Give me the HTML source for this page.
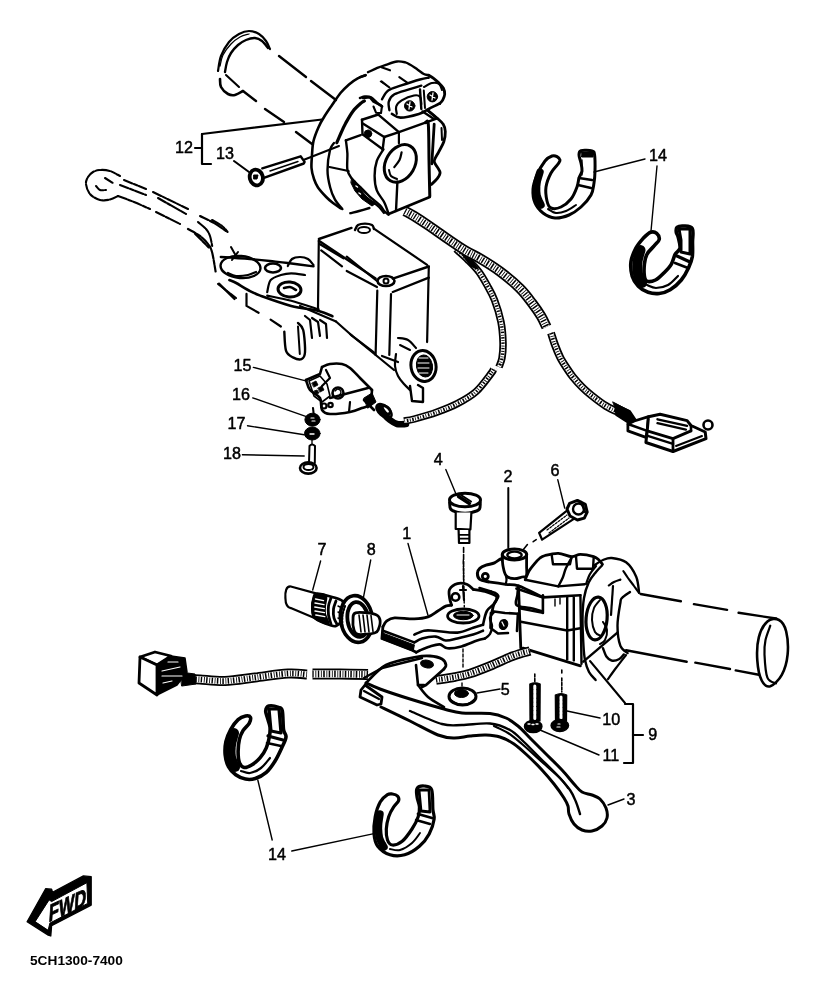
<!DOCTYPE html>
<html><head><meta charset="utf-8"><style>
html,body{margin:0;padding:0;background:#fff;width:815px;height:996px;overflow:hidden}
svg{display:block;filter:grayscale(1)}
text{font-family:"Liberation Sans",sans-serif;fill:#000}
</style></head><body>
<svg width="815" height="996" viewBox="0 0 815 996">
<rect width="815" height="996" fill="#fff"/>
<g fill="none" stroke="#000" stroke-linecap="round" stroke-linejoin="round">
<!-- 00_helpers.py -->
<!-- 01_topgrip.py -->
<path d="M218,71 C218.5,68.5 219.2,60.8 221,56 C222.8,51.2 226,45.7 229,42 C232,38.3 235.7,35.8 239,34 C242.3,32.2 245.7,31 249,31 C252.3,31 256.2,32.3 259,34 C261.8,35.7 264.2,38.5 266,41 C267.8,43.5 269.3,47.7 270,49" stroke-width="2.2" fill="none"/>
<path d="M220,66 C220.5,64.2 221.2,58.7 223,55 C224.8,51.3 228.2,47 231,44 C233.8,41 237,38.7 240,37 C243,35.3 247.5,34.5 249,34" stroke-width="1.3" fill="none"/>
<path d="M225,72 C225.3,70.3 226,65.2 227,62 C228,58.8 229.2,55.8 231,53 C232.8,50.2 235.5,47.2 238,45 C240.5,42.8 243.2,41.2 246,40 C248.8,38.8 252.3,37.8 255,38 C257.7,38.2 259.8,39.3 262,41 C264.2,42.7 267,46.8 268,48" stroke-width="2.4" fill="none"/>
<path d="M220,79 C220.2,80.3 219.7,84.5 221,87 C222.3,89.5 225.7,92.7 228,94 C230.3,95.3 232.5,95.5 235,95 C237.5,94.5 241.7,91.7 243,91" stroke-width="2.6" fill="none"/>
<path d="M243,91 L256,101" stroke-width="2.4"/>
<path d="M226,75 L239,87" stroke-width="2.1"/>
<path d="M279,56 L306,77" stroke-width="2.4"/>
<path d="M311,81 L336,100" stroke-width="2.4"/>
<path d="M265,109 L284,122" stroke-width="2.4"/>
<path d="M296,132 L312,144" stroke-width="2.4"/>
<path d="M202,134 L322,119.5" stroke-width="2.2"/>
<path d="M202,134 L202,164 L211,164" stroke-width="2.2" fill="none"/>
<path d="M195,148 L202,148" stroke-width="2.2"/>
<text x="0" y="0" font-size="17" transform="translate(175,153) scale(0.95,1)" stroke="#000" stroke-width="0.5">12</text>
<text x="0" y="0" font-size="17" transform="translate(216,159) scale(0.95,1)" stroke="#000" stroke-width="0.5">13</text>
<path d="M234,161 L249,172" stroke-width="2.1"/>
<path d="M262.3,168.3 L300.6,156.3 L304.6,161.9 L303.8,163.5 L263.9,177.9" fill="#fff" stroke-width="2.4"/>
<path d="M270,171 L298,161.5" stroke-width="1.4"/>
<ellipse cx="256.3" cy="177.5" rx="6.5" ry="8" transform="rotate(-15 256.3 177.5)" stroke-width="3.8" fill="#fff"/>
<path d="M254,175 l4,0 l-1,4 l-3,0 z" fill="#000" stroke-width="1"/>
<path d="M304.6,159.5 L339,146" stroke-width="2.1"/>
<!-- 02_switch.py -->
<path d="M341,208.5 C339.7,207.6 335.5,204.9 333,203 C330.5,201.1 328.7,199.6 326.2,197 C323.7,194.4 320,190.5 318,187.5 C316,184.5 315.1,182.2 314,179 C312.9,175.8 311.8,172 311.5,168 C311.2,164 311.7,159.5 312,155 C312.3,150.5 312.4,145.6 313.5,141 C314.6,136.4 316.6,131.5 318.4,127.4 C320.2,123.3 322.2,120 324.5,116.3 C326.8,112.6 329.2,109.2 331.9,105.3 C334.6,101.4 337.6,96.5 340.5,93 C343.4,89.5 346.1,86.9 349,84.4 C351.9,82 354.9,79.8 357.7,78.3 C360.5,76.8 364.3,75.7 365.6,75.2" stroke-width="2.6" fill="none"/>
<path d="M368,72.2 C369.6,71.5 374.3,69.1 377.3,67.9 C380.3,66.7 382.6,65.9 385.9,64.8 C389.2,63.7 393.8,61.9 397,61.5 C400.2,61.1 403.2,61.9 405.4,62.4 C407.6,62.9 408.2,63.6 410.3,64.8 C412.4,66 415.4,68.2 417.7,69.7 C419.9,71.2 422,73.1 423.8,74 C425.6,74.9 427.9,75 428.7,75.2" stroke-width="2.4" fill="none"/>
<path d="M360,77.1 L365.5,75.2" stroke-width="2.4"/>
<path d="M334,143 C333.3,144.2 331.1,145.5 330,150 C328.9,154.5 327.5,163.8 327.5,170 C327.5,176.2 328.9,182.6 330.2,187.5 C331.4,192.4 333,196.1 335,199.7 C337,203.3 341.2,207.5 342.4,209.1" stroke-width="2.4" fill="none"/>
<path d="M336.8,142.7 C337.5,141.1 339.6,136.2 341,133 C342.4,129.8 343.4,127.3 345.4,123.7 C347.4,120.1 350.1,114.9 352.8,111.4 C355.5,107.9 359.4,104.6 361.3,102.9 C363.2,101.2 363.9,101.3 364.4,101" stroke-width="3.2" fill="none"/>
<path d="M363.2,98 L370,97.3 L373.6,101.6 L381,105.3" stroke-width="2.6" fill="none"/>
<path d="M381.5,81.4 L389.4,87.5" stroke-width="2.1"/>
<path d="M399.3,77.1 L407.2,82.6" stroke-width="2.1"/>
<path d="M381.5,67.3 L390,70.3" stroke-width="2.1"/>
<path d="M380.4,81.4 L389.6,87.5" stroke-width="1.3"/>
<path d="M428.7,75.2 C429.5,75.7 432,77.1 433.6,78.3 C435.2,79.5 436.9,81 438.5,82.6 C440.1,84.2 442.4,86.1 443.4,88.1 C444.4,90 444.8,92.3 444.7,94.3 C444.6,96.2 443.6,98.3 442.8,99.8 C442,101.3 440.3,102.9 439.8,103.5" stroke-width="2.8" fill="none"/>
<path d="M382,99.2 C383,97.8 385.1,92.8 388.2,90.6 C391.3,88.3 395.2,87.5 400.5,85.7 C405.8,83.9 415.3,80.8 420,79.5 C424.7,78.2 427.2,78 428.7,77.7" stroke-width="2.4" fill="none"/>
<path d="M389.4,110.2 C389.3,108.8 388,104.2 388.8,101.6 C389.6,98.9 391,96.3 394.4,94.3 C397.8,92.3 404.5,90.8 409,89.4 C413.5,88 419.2,86.3 421.3,85.7" stroke-width="2.4" fill="none"/>
<path d="M391.9,113.9 C393.3,114.5 396,117.6 400.5,117.6 C405,117.6 414.2,115.3 418.9,113.9 C423.6,112.5 425.2,110.7 428.7,109 C432.2,107.3 437.9,104.4 439.8,103.5" stroke-width="2.6" fill="none"/>
<path d="M396.8,113.9 C396.7,112.7 395.4,108.8 396.2,106.5 C397,104.2 398.7,102.2 401.7,100.4 C404.7,98.6 410.9,96.1 414,95.5 C417.1,94.9 418.8,95.3 420,96.7 C421.2,98.1 421.1,102.9 421.3,104.1" stroke-width="2.2" fill="none"/>
<path d="M420,89.4 L421.3,109" stroke-width="2.4"/>
<path d="M423.8,90.6 L425,108" stroke-width="2"/>
<path d="M424,87 C425.3,86.3 429.5,83.5 432,83 C434.5,82.5 437.3,82.8 439,84 C440.7,85.2 441.5,89 442,90" stroke-width="2" fill="none"/>
<circle cx="409.7" cy="105.9" r="5.2" stroke-width="1" fill="#000"/>
<circle cx="432.4" cy="96.7" r="5.2" stroke-width="1" fill="#000"/>
<path d="M407,104 l5,3 M410,102 l-1,7 M430,95 l5,3 M433,93 l-1,7" stroke="#fff" stroke-width="1.3"/>
<path d="M362,119.7 L378.3,114.6" stroke-width="2.6"/>
<path d="M378.3,114.6 L398.9,132.2" stroke-width="2.4"/>
<path d="M398.9,132.2 L425.4,122.7" stroke-width="2.4"/>
<path d="M422.6,111.4 L433.6,118.8" stroke-width="2.4"/>
<path d="M428.3,110.9 L437.2,118.3" stroke-width="2.4"/>
<path d="M425.4,122.7 L437.2,118.3" stroke-width="2.4"/>
<path d="M360,98 C360.8,97.8 363.1,96.6 364.9,96.5 C366.7,96.4 368.9,96.2 371,97.3 C373.1,98.4 375.3,101.4 377.2,102.9 C379.1,104.4 381.3,105.9 382.1,106.5" stroke-width="2.6" fill="none"/>
<path d="M373.5,106.5 L376,112.7 L381,113 L382,106" stroke-width="2.1" fill="none"/>
<path d="M362,119.7 L362.5,134.4" stroke-width="2.4"/>
<path d="M362.8,123.4 L384.2,137" stroke-width="2.4"/>
<path d="M362.5,134.4 L382.7,149.2" stroke-width="2.4"/>
<path d="M384.2,137 L382.7,149.2" stroke-width="2.4"/>
<path d="M384.2,137 L398.9,132.2" stroke-width="2.4"/>
<circle cx="368" cy="133.7" r="3.7" stroke-width="1" fill="#000"/>
<path d="M345.9,140.3 L360.6,135.2" stroke-width="2.4"/>
<path d="M398.9,132.2 L398.9,143.3" stroke-width="2.2"/>
<path d="M397.4,181.6 L396,211" stroke-width="2.4"/>
<path d="M425.4,122.7 C425.9,122.9 427.7,117.9 428.3,124.1 C428.9,130.3 428.8,148 429,160 C429.2,172 429.7,190.2 429.8,196.3" stroke-width="3" fill="none"/>
<path d="M388.6,214 L429.8,197" stroke-width="2.6"/>
<path d="M383.5,149.2 C382.4,151.2 378.3,156.6 376.8,161 C375.3,165.4 374.6,170.8 374.6,175.7 C374.6,180.6 375.2,186 376.8,190.4 C378.4,194.8 382.2,198.3 384.2,202.2 C386.2,206.1 387.9,212 388.6,214" stroke-width="2.4" fill="none"/>
<path d="M345.9,140.3 C346.1,142.5 347.1,148.7 347.4,153.6 C347.6,158.5 346.7,165.6 347.4,169.8 C348.1,174 349.6,175.7 351.8,178.6 C354,181.5 357.7,184.4 360.6,187.4 C363.5,190.4 366.2,193.4 369.4,196.3 C372.6,199.2 377.3,202.7 379.8,205.1 C382.3,207.5 382.7,209.4 384.2,211 C385.7,212.6 387.9,214.1 388.6,214.7" stroke-width="2.4" fill="none"/>
<path d="M354.7,181.6 C355.2,183.1 356,187.8 357.7,190.4 C359.4,193 362.4,195.1 365,197 C367.6,198.9 370.7,200.3 373,202 C375.3,203.7 377.2,205.2 379,207 C380.8,208.8 383.2,212 384,213" stroke-width="2.2" fill="none"/>
<path d="M352,178 L358,186 L366,196 L375,204 L372,206 L362,199 L355,191 L351,183 Z" fill="#000" stroke-width="1"/>
<path d="M356,186 l1.5,1 M359,193 l1.5,1" stroke="#fff" stroke-width="1.5"/>
<path d="M350.3,213.2 C351.8,212.8 355.9,211.9 359.1,211 C362.3,210.1 367.7,208.5 369.4,208" stroke-width="2.4" fill="none"/>
<path d="M428.3,110.9 C429.8,112.1 434.7,116.1 437.2,118.3 C439.7,120.5 441.8,121.9 443.1,124.1 C444.5,126.3 445.2,128.6 445.3,131.5 C445.4,134.4 444.9,138.4 443.8,141.8 C442.7,145.2 440.2,148.9 438.6,152.1 C437,155.3 434.4,158.6 434.2,161 C434,163.4 436.2,164.9 437.2,166.8 C438.2,168.8 440.1,170.7 440.1,172.7 C440.1,174.7 438.7,176.6 437.2,178.6 C435.7,180.6 432.3,183.5 431.3,184.5" stroke-width="2.8" fill="none"/>
<path d="M434.2,124.1 L431.8,163.9" stroke-width="2.8"/>
<path d="M441.5,128 L442,140" stroke-width="2"/>
<ellipse cx="400.3" cy="163.4" rx="14.5" ry="20" transform="rotate(30 400.3 163.4)" stroke-width="3" fill="none"/>
<path d="M389,170 C389.3,171 389.7,174.5 391,176 C392.3,177.5 396,178.5 397,179" stroke-width="2" fill="none"/>
<path d="M401.6,152.4 C401.2,153.7 400.7,157.6 399.5,160 C398.3,162.4 395.2,165.9 394.3,167.1" stroke-width="2.2" fill="none"/>
<path d="M329.5,167 L348.6,171" stroke-width="2.2"/>
<!-- 03_cable_top.py -->
<path d="M456,249 C458,250.8 464.2,256.2 468,260 C471.8,263.8 475.8,267.7 479,272 C482.2,276.3 484.9,281.3 487.5,286 C490.1,290.7 492.2,294 494.5,300 C496.8,306 499.6,315 501,322 C502.4,329 502.8,336 503,342 C503.2,348 502.7,353.8 502,358 C501.3,362.2 499.5,365.5 499,367" stroke-width="7.5" stroke-linecap="butt"/>
<path d="M456,249 C458,250.8 464.2,256.2 468,260 C471.8,263.8 475.8,267.7 479,272 C482.2,276.3 484.9,281.3 487.5,286 C490.1,290.7 492.2,294 494.5,300 C496.8,306 499.6,315 501,322 C502.4,329 502.8,336 503,342 C503.2,348 502.7,353.8 502,358 C501.3,362.2 499.5,365.5 499,367" stroke="#fff" stroke-width="3.9" stroke-linecap="butt"/>
<path d="M456,249 C458,250.8 464.2,256.2 468,260 C471.8,263.8 475.8,267.7 479,272 C482.2,276.3 484.9,281.3 487.5,286 C490.1,290.7 492.2,294 494.5,300 C496.8,306 499.6,315 501,322 C502.4,329 502.8,336 503,342 C503.2,348 502.7,353.8 502,358 C501.3,362.2 499.5,365.5 499,367" stroke-width="3.3" stroke-dasharray="1.5 1.7 0.8 1.4" stroke-linecap="butt"/>
<path d="M405,211 C406.5,211.8 409.8,213.4 414,216 C418.2,218.6 424,222.4 430,226.5 C436,230.6 444,236.4 450,240.5 C456,244.6 461,248 466,251 C471,254 474.3,255.1 480,258.5 C485.7,261.9 493.3,266.5 500,271.5 C506.7,276.5 514.7,283.2 520,288.5 C525.3,293.8 528.5,298.4 532,303 C535.5,307.6 538.6,312 541,316 C543.4,320 545.6,325.2 546.5,327" stroke-width="10.5" stroke-linecap="butt"/>
<path d="M405,211 C406.5,211.8 409.8,213.4 414,216 C418.2,218.6 424,222.4 430,226.5 C436,230.6 444,236.4 450,240.5 C456,244.6 461,248 466,251 C471,254 474.3,255.1 480,258.5 C485.7,261.9 493.3,266.5 500,271.5 C506.7,276.5 514.7,283.2 520,288.5 C525.3,293.8 528.5,298.4 532,303 C535.5,307.6 538.6,312 541,316 C543.4,320 545.6,325.2 546.5,327" stroke="#fff" stroke-width="6.9" stroke-linecap="butt"/>
<path d="M405,211 C406.5,211.8 409.8,213.4 414,216 C418.2,218.6 424,222.4 430,226.5 C436,230.6 444,236.4 450,240.5 C456,244.6 461,248 466,251 C471,254 474.3,255.1 480,258.5 C485.7,261.9 493.3,266.5 500,271.5 C506.7,276.5 514.7,283.2 520,288.5 C525.3,293.8 528.5,298.4 532,303 C535.5,307.6 538.6,312 541,316 C543.4,320 545.6,325.2 546.5,327" stroke-width="6.3" stroke-dasharray="1.5 1.7 0.8 1.4" stroke-linecap="butt"/>
<path d="M462,254 L472,261 L478,269 L471,266 Z" fill="#000" stroke-width="1.5"/>
<path d="M551,333 C551.7,335 553.5,341 555,345 C556.5,349 558.2,353.3 560,357 C561.8,360.7 563.8,363.7 566,367 C568.2,370.3 570.3,373.7 573,377 C575.7,380.3 579,384 582,387 C585,390 587,391.8 591,395 C595,398.2 601.2,403.1 606,406 C610.8,408.9 615.5,410.8 619.5,412.6 C623.5,414.4 628.2,416.3 630,417" stroke-width="8" stroke-linecap="butt"/>
<path d="M551,333 C551.7,335 553.5,341 555,345 C556.5,349 558.2,353.3 560,357 C561.8,360.7 563.8,363.7 566,367 C568.2,370.3 570.3,373.7 573,377 C575.7,380.3 579,384 582,387 C585,390 587,391.8 591,395 C595,398.2 601.2,403.1 606,406 C610.8,408.9 615.5,410.8 619.5,412.6 C623.5,414.4 628.2,416.3 630,417" stroke="#fff" stroke-width="4.4" stroke-linecap="butt"/>
<path d="M551,333 C551.7,335 553.5,341 555,345 C556.5,349 558.2,353.3 560,357 C561.8,360.7 563.8,363.7 566,367 C568.2,370.3 570.3,373.7 573,377 C575.7,380.3 579,384 582,387 C585,390 587,391.8 591,395 C595,398.2 601.2,403.1 606,406 C610.8,408.9 615.5,410.8 619.5,412.6 C623.5,414.4 628.2,416.3 630,417" stroke-width="3.8" stroke-dasharray="1.5 1.7 0.8 1.4" stroke-linecap="butt"/>
<path d="M613,402 L630,411 L634,420 L617,412 Z" fill="#000" stroke-width="1"/>
<path d="M615,404 L630,411 L636,420 L630,424 L616,415 Z" fill="#000" stroke-width="1.5"/>
<path d="M627.9,424 L634.3,421 L648.5,416.7 L647.2,430.9 L645.9,437.4 L627.9,430.9 Z" stroke-width="2.8" fill="#fff"/>
<path d="M627.9,424 L647.2,430.9" stroke-width="2.6"/>
<path d="M648.5,416.7 L660.1,414.2 L687.1,420.6 L691,425.5 L705.2,432 L706,438.6 L673,451.5 L645.9,442.5 L647.2,430.9 Z" stroke-width="3" fill="#fff"/>
<path d="M647.2,430.9 L673,438.6 L673,451.5" stroke-width="2.8" fill="none"/>
<path d="M673,438.6 L691,430.9" stroke-width="2.8"/>
<path d="M657.5,419.3 L687.1,425.8" stroke-width="2.4"/>
<path d="M657.5,423.2 L685.9,429.6" stroke-width="2.4"/>
<path d="M648.5,436.1 L673,443.8" stroke-width="2.4"/>
<path d="M676,446 L702,436" stroke-width="2"/>
<path d="M691,425.5 L691,431" stroke-width="2.6"/>
<circle cx="708" cy="425" r="4.5" stroke-width="2.6" fill="#fff"/>
<!-- 04_lever_top.py -->
<g stroke-dasharray="9 1.6 4 1.4">
<path d="M118,196 C116.7,196.6 113,198.8 110,199.5 C107,200.2 103.3,200.9 100,200 C96.7,199.1 92.3,196.7 90,194 C87.7,191.3 86.3,186.8 86,184 C85.7,181.2 86.8,179 88,177 C89.2,175 91,173.2 93,172 C95,170.8 97.2,170.2 100,170 C102.8,169.8 106.7,170 110,171 C113.3,172 118.3,175.2 120,176" stroke-width="2.1" fill="none"/>
<path d="M96,186 C96.7,186.7 98.3,189.3 100,190 C101.7,190.7 105,190 106,190" stroke-width="2.1" fill="none"/>
<path d="M105,178 L113,183" stroke-width="2.1"/>
<path d="M124,180 L146,189" stroke-width="2.1"/>
<path d="M120,185 L146,195" stroke-width="2.1"/>
<path d="M153,192 L188,209" stroke-width="2.1"/>
<path d="M158,198 L186,214" stroke-width="2.1"/>
<path d="M118,196 C120.7,197 128.7,199.8 134,202 C139.3,204.2 147.3,207.8 150,209" stroke-width="2.1" fill="none"/>
<path d="M156,212 L180,224" stroke-width="2.1"/>
<path d="M188,229 C190,230.2 196.7,233.5 200,236 C203.3,238.5 206,241.3 208,244 C210,246.7 210.7,247.4 212,252 C213.3,256.6 215,268.2 215.6,271.5" stroke-width="2.2" fill="none"/>
<path d="M200,216 C202.3,217.2 209.7,220.5 214,223 C218.3,225.5 224,229.7 226,231" stroke-width="2.1" fill="none"/>
<path d="M198,222 C199.3,223.2 204,226.7 206,229 C208,231.3 209,233.2 210,236 C211,238.8 211.8,244.3 212.2,246" stroke-width="2.1" fill="none"/>
<path d="M212,220 C213.7,221 219.4,224 222,226 C224.6,228 226.7,231 227.6,232" stroke-width="2.1" fill="none"/>
<path d="M195,233.7 L208.7,247.5" stroke-width="2.1"/>
<path d="M218,284 L236,298" stroke-width="2.1"/>
</g>
<ellipse cx="240.5" cy="267" rx="20" ry="11" transform="rotate(5 240.5 267)" stroke-width="2.4" fill="none"/>
<path d="M228,273 C229.3,273.5 232.7,275.7 236,276 C239.3,276.3 244.7,275.7 248,275 C251.3,274.3 254.7,272.5 256,272" stroke-width="2.2" fill="none"/>
<ellipse cx="273" cy="268" rx="8" ry="4.5" transform="rotate(0 273 268)" stroke-width="2.6" fill="none"/>
<path d="M287.8,266 C288.5,264.8 290,260.5 292,259 C294,257.5 297.3,257 300,257 C302.7,257 305.8,257.7 308,259 C310.2,260.3 312.6,264 313.5,265" stroke-width="2.2" fill="none"/>
<path d="M220.8,257 C225.7,257.3 241.8,258.3 250,259 C258.2,259.7 263.7,260.3 270,261 C276.3,261.7 280.6,262.1 287.8,263 C295.1,263.9 309.2,265.8 313.5,266.4" stroke-width="2.4" fill="none"/>
<path d="M229.4,280 C230.5,280.5 233.1,281.3 236.2,283 C239.3,284.7 244,287.9 248,290 C252,292.1 253.1,293 260.3,295.6 C267.5,298.2 281.5,303.3 291.2,305.9 C300.9,308.5 311.8,309.3 318.7,311 C325.6,312.7 330.1,315.3 332.4,316.2" stroke-width="2.6" fill="none"/>
<ellipse cx="289.5" cy="289.5" rx="11.5" ry="7.5" transform="rotate(5 289.5 289.5)" stroke-width="3" fill="none"/>
<path d="M284,288 C285,287.8 288,286.7 290,287 C292,287.3 295,289.5 296,290" stroke-width="2.6" fill="none"/>
<path d="M267.2,292.2 C267.8,290.2 268.3,283 270.6,280.1 C272.9,277.2 277.5,276.1 280.9,275 C284.3,273.9 287.2,273.3 291.2,273.3 C295.2,273.3 302.7,274.7 305,275" stroke-width="2.2" fill="none"/>
<path d="M267.2,295.6 C271.2,296.5 282.6,298.4 291.2,300.7 C299.8,303 314.1,307.9 318.7,309.3" stroke-width="2.2" fill="none"/>
<path d="M246.5,293.9 L246.5,305.9 L258.6,312.8" stroke-width="2.2" fill="none"/>
<path d="M219,283.6 L234.5,299" stroke-width="2.2"/>
<path d="M270.6,319.6 L280.9,326.5" stroke-width="2.2"/>
<path d="M284.3,331.7 C284.6,334.9 284.6,346.3 286,350.6 C287.4,354.9 290.3,356 292.9,357.4 C295.5,358.8 299.5,360 301.5,359.2 C303.5,358.4 304.7,357.2 305,352.3 C305.3,347.4 304.4,334.9 303.2,330 C302,325.1 298.9,324.2 298,323" stroke-width="2.4" fill="none"/>
<path d="M298,326.5 L299.8,354" stroke-width="2"/>
<path d="M305,316 L310,320 L312,338" stroke-width="2.2" fill="none"/>
<path d="M312,318 L318,322 L320,336" stroke-width="2.2" fill="none"/>
<path d="M320,320 L326,324 L327,338" stroke-width="2.2" fill="none"/>
<path d="M232,260 L238,252" stroke-width="2"/>
<path d="M231,247 L236,256" stroke-width="2"/>
<!-- 05_reservoir.py -->
<path d="M318.9,239 L351.5,227.9" stroke-width="2.4"/>
<path d="M355,230 C355.5,229.2 356.3,226.1 358,225 C359.7,223.9 362.7,223.6 365,223.6 C367.3,223.6 370.5,224.1 372,225 C373.5,225.9 373.7,228.3 374,229" stroke-width="2.4" fill="none"/>
<ellipse cx="364" cy="230" rx="6" ry="3" transform="rotate(0 364 230)" stroke-width="2" fill="none"/>
<path d="M373.9,228.7 L427.1,264.8" stroke-width="2.2"/>
<path d="M318.9,240.8 L375.6,278.6" stroke-width="2.4"/>
<path d="M319.6,244 L343.5,258.3" stroke-width="2.2"/>
<path d="M346.7,256.7 L377,281" stroke-width="2.2"/>
<path d="M321.2,250.3 L342,266.3" stroke-width="2.2"/>
<path d="M346.7,271 L377,287" stroke-width="2.2"/>
<path d="M392.8,278.6 L428.8,266.5" stroke-width="2.4"/>
<path d="M392.8,292 L428.8,277.7" stroke-width="2.4"/>
<ellipse cx="386" cy="281" rx="8.5" ry="5" transform="rotate(0 386 281)" stroke-width="2.6" fill="none"/>
<circle cx="386" cy="281" r="2.5" stroke-width="2" fill="none"/>
<path d="M318.8,240.7 L318,308" stroke-width="2.2"/>
<path d="M377.3,290.6 L375.6,355" stroke-width="2.2"/>
<path d="M391,294 L389.3,355" stroke-width="2.2"/>
<path d="M428.8,266.5 L427.1,342.1" stroke-width="2.2"/>
<path d="M300,306 L336,321.5" stroke-width="2.2"/>
<path d="M336,321.5 L351.5,335.3" stroke-width="2.2"/>
<path d="M351.5,335.3 L373.9,352.4" stroke-width="2.2"/>
<!-- 06_brakeswitch.py -->
<path d="M322,367 C323.3,366.5 326.7,364.5 330,364 C333.3,363.5 338.7,363.3 342,364 C345.3,364.7 347,365.7 350,368 C353,370.3 357,375 360,378 C363,381 366,384 368,386 C370,388 371.3,389.3 372,390" stroke-width="2.6" fill="none"/>
<path d="M306,380 C306.7,381.7 307.7,387 310,390 C312.3,393 318,394.7 320,398 C322,401.3 320.3,407.3 322,410 C323.7,412.7 325.3,413.7 330,414 C334.7,414.3 344.7,413 350,412 C355.3,411 358.7,409.3 362,408 C365.3,406.7 368.3,407 370,404 C371.7,401 371.7,392.3 372,390" stroke-width="2.6" fill="none"/>
<path d="M322,367 L320,374 L306,380" stroke-width="2.6" fill="none"/>
<path d="M326,370 L330,378 L322,386" stroke-width="2.2" fill="none"/>
<path d="M330,398 L368,388" stroke-width="2.4"/>
<path d="M350,402 L349,412" stroke-width="2.2"/>
<path d="M309,381 L320,376 L327,384 L330,396 L322,402 L314,396 Z" fill="none" stroke-width="1.6"/>
<path d="M312,383 l4,-2 l2,4 l-4,2 Z M318,388 l4,-2 l2,4 l-4,2 Z M314,391 l3,-1 l2,3 l-3,1 Z" fill="#000" stroke-width="0.8"/>
<circle cx="338" cy="393" r="5.5" stroke-width="2.6" fill="none"/>
<path d="M335,391 C335.5,390.7 337,388.8 338,389 C339,389.2 340.8,390.8 341,392 C341.2,393.2 339.3,395.3 339,396" stroke-width="1.4" fill="none"/>
<circle cx="324" cy="406" r="2.5" stroke-width="2.2" fill="none"/>
<circle cx="330.5" cy="405" r="2.2" stroke-width="2.2" fill="none"/>
<path d="M364,400 L374,410" stroke-width="2.6" fill="none"/>
<path d="M364,398 L372,393 L376,402 L368,408 Z" fill="#000" stroke-width="1"/>
<ellipse cx="384" cy="411" rx="9" ry="5" transform="rotate(40 384 411)" stroke-width="2.4" fill="none"/>
<ellipse cx="386" cy="410" rx="5" ry="3" transform="rotate(40 386 410)" stroke-width="3" fill="none"/>
<path d="M380,408 C380.7,409 382.3,412 384,414 C385.7,416 387.8,418.3 390,420 C392.2,421.7 394.3,423.3 397,424 C399.7,424.7 404.5,424 406,424" stroke-width="6.6" fill="none"/>
<path d="M493.4,369.2 C493.1,369.8 494.6,368.9 491.7,372.6 C488.8,376.3 481.9,386.3 476.2,391.5 C470.5,396.7 463.9,400.2 457.3,403.6 C450.7,407.1 443.9,409.6 436.7,412.2 C429.5,414.8 419.8,417.5 414.4,419 C408.9,420.5 405.7,420.7 404,421" stroke-width="7.5" stroke-linecap="butt"/>
<path d="M493.4,369.2 C493.1,369.8 494.6,368.9 491.7,372.6 C488.8,376.3 481.9,386.3 476.2,391.5 C470.5,396.7 463.9,400.2 457.3,403.6 C450.7,407.1 443.9,409.6 436.7,412.2 C429.5,414.8 419.8,417.5 414.4,419 C408.9,420.5 405.7,420.7 404,421" stroke="#fff" stroke-width="3.9" stroke-linecap="butt"/>
<path d="M493.4,369.2 C493.1,369.8 494.6,368.9 491.7,372.6 C488.8,376.3 481.9,386.3 476.2,391.5 C470.5,396.7 463.9,400.2 457.3,403.6 C450.7,407.1 443.9,409.6 436.7,412.2 C429.5,414.8 419.8,417.5 414.4,419 C408.9,420.5 405.7,420.7 404,421" stroke-width="3.3" stroke-dasharray="1.5 1.7 0.8 1.4" stroke-linecap="butt"/>
<path d="M253.4,367.4 L305.7,380.9" stroke-width="1.4"/>
<path d="M252.7,397.9 L305.7,416.3" stroke-width="1.4"/>
<path d="M247.5,425.8 L304.2,434.7" stroke-width="1.4"/>
<path d="M242.4,454.8 L304.2,456" stroke-width="1.4"/>
<text x="0" y="0" font-size="17" transform="translate(233.5,371.3) scale(0.95,1)" stroke="#000" stroke-width="0.5">15</text>
<text x="0" y="0" font-size="17" transform="translate(232,400.3) scale(0.95,1)" stroke="#000" stroke-width="0.5">16</text>
<text x="0" y="0" font-size="17" transform="translate(227.5,428.8) scale(0.95,1)" stroke="#000" stroke-width="0.5">17</text>
<text x="0" y="0" font-size="17" transform="translate(223,459) scale(0.95,1)" stroke="#000" stroke-width="0.5">18</text>
<path d="M313,408 L313.8,414.8" stroke-width="2.1"/>
<ellipse cx="312.5" cy="419.7" rx="7.6" ry="6.5" transform="rotate(0 312.5 419.7)" stroke-width="1" fill="#000"/>
<path d="M311,418 l3,0 M312,421 l3,0" stroke="#fff" stroke-width="1.2"/>
<ellipse cx="312.3" cy="433.5" rx="7.8" ry="6.5" transform="rotate(0 312.3 433.5)" stroke-width="1" fill="#000"/>
<path d="M310,434 l4,0" stroke="#fff" stroke-width="1.4"/>
<path d="M312,440 L312,444" stroke-width="1.3"/>
<path d="M309,463 L309.5,446 Q312,443 315,446 L314.8,463" fill="none" stroke-width="2"/>
<ellipse cx="308.3" cy="468" rx="8.3" ry="5.6" transform="rotate(0 308.3 468)" stroke-width="2.6" fill="none"/>
<ellipse cx="308.5" cy="467" rx="5" ry="3" transform="rotate(0 308.5 467)" stroke-width="2" fill="none"/>
<ellipse cx="423.5" cy="366" rx="12.5" ry="15.5" transform="rotate(-10 423.5 366)" stroke-width="3" fill="none"/>
<ellipse cx="424.5" cy="366" rx="8" ry="11" transform="rotate(-10 424.5 366)" stroke-width="1" fill="#000"/>
<path d="M419,358 l9,0 M418,363 l11,0 M418,368 l11,0 M419,373 l9,0" stroke="#fff" stroke-width="1"/>
<path d="M396,354 C395.8,356 394.7,362.3 395,366 C395.3,369.7 396.5,373 398,376 C399.5,379 402,381.7 404,384 C406,386.3 409,389 410,390" stroke-width="2.2" fill="none"/>
<path d="M398,338 C399.7,338.3 405,338.3 408,340 C411,341.7 414.7,346.7 416,348" stroke-width="2.2" fill="none"/>
<path d="M410,386 L412,401 L423,402 L423,388 L418,385" stroke-width="2.4" fill="none"/>
<path d="M350,334 L394,370" stroke-width="2.2"/>
<path d="M382,356 L398,362" stroke-width="2.2"/>
<path d="M400,345 L410,350" stroke-width="2"/>
<!-- 07_clips_top.py -->
<path d="M552,156 C550,156.7 547.5,157.8 545,161 C542.5,164.2 539,170.3 537,175 C535,179.7 533.3,184.3 533,189 C532.7,193.7 533.3,199 535,203 C536.7,207 539.7,210.5 543,213 C546.3,215.5 550.7,217.7 555,218 C559.3,218.3 564.7,216.8 569,215 C573.3,213.2 577.3,210.3 581,207 C584.7,203.7 588.8,199 591,195 C593.2,191 593.3,187 594,183 C594.7,179 594.9,175.7 595,171 C595.1,166.3 595.1,158.3 594.6,155 C594.1,151.7 594.3,151.7 592,151 C589.7,150.3 583.2,149.9 581,150.6 C578.8,151.3 579,152.9 579,155 C579,157.1 580.5,160.3 581,163 C581.5,165.7 582.3,168.5 582,171 C581.7,173.5 579.8,175.3 579,178 C578.2,180.7 578.3,183.5 577,187 C575.7,190.5 573.7,195.7 571,199 C568.3,202.3 564.3,205.5 561,207 C557.7,208.5 553.3,209 551,208 C548.7,207 547.8,204.5 547,201 C546.2,197.5 545.3,191.7 546,187 C546.7,182.3 549,176.8 551,173 C553,169.2 556.5,166.2 558,164 C559.5,161.8 560.2,161.2 560,160 C559.8,158.8 558.3,157.3 557,156.6 C555.7,155.9 554,155.3 552,156 Z" stroke-width="3" fill="#fff"/>
<path d="M540,172 C539.5,173.8 537.5,179.2 537,183 C536.5,186.8 536.3,191.3 537,195 C537.7,198.7 540.3,203.3 541,205" stroke-width="7.5" stroke-dasharray="8 1.2 5 1.2"/>
<path d="M548,209 C549.3,209.7 553,212.7 556,213 C559,213.3 562.7,212.3 566,211 C569.3,209.7 574.3,206 576,205" stroke-width="2" fill="none"/>
<path d="M581,152 L593,152 L593,157 L582,157 Z" stroke-width="1" fill="#000"/>
<path d="M579,178 L592,180" stroke-width="2.6"/>
<path d="M578,185 L591,188" stroke-width="2.6"/>
<path d="M582,160 L582,175" stroke-width="1.3"/>
<text x="0" y="0" font-size="17" transform="translate(649,161) scale(0.95,1)" stroke="#000" stroke-width="0.5">14</text>
<path d="M645,159 L594,172" stroke-width="1.4"/>
<path d="M657,166 L651,231" stroke-width="1.4"/>
<path d="M650.6,232.2 C648.4,233 645.7,235.7 643.2,238.3 C640.8,241 637.9,244.2 635.9,248.1 C633.9,252 631.6,256.9 631,261.6 C630.4,266.3 631,272.2 632.2,276.3 C633.4,280.4 635.6,283.5 638.3,286.2 C640.9,288.9 644.6,291.1 648.1,292.3 C651.6,293.5 655.5,293.9 659.2,293.5 C662.9,293.1 666.5,292.1 670.2,289.8 C673.9,287.6 678.2,283.7 681.3,280 C684.4,276.3 686.8,271.7 688.6,267.8 C690.4,263.9 691.6,261 692.3,256.7 C692.9,252.4 692.5,246.7 692.5,242 C692.5,237.3 693.8,231.2 692.3,228.5 C690.8,225.8 686.2,226.2 683.7,226 C681.2,225.8 678.2,226.3 677,227.3 C675.8,228.3 676.1,230.6 676.3,232.2 C676.5,233.8 677.6,234.4 678.2,237.1 C678.8,239.8 680.5,245.2 680,248.1 C679.5,251 676.5,251.6 675.1,254.3 C673.7,257 673.2,261 671.4,264.1 C669.6,267.2 666.8,270.1 664.1,272.7 C661.5,275.3 658.4,278.6 655.5,280 C652.6,281.4 648.8,281.9 646.9,281.3 C645,280.7 644.8,279.2 644.4,276.3 C644,273.4 644,267.8 644.4,264.1 C644.8,260.4 645.2,257.4 646.9,254.3 C648.5,251.2 652.2,248.2 654.3,245.7 C656.3,243.2 658.8,241.6 659.2,239.5 C659.6,237.4 658.1,234.6 656.7,233.4 C655.3,232.2 652.9,231.4 650.6,232.2 Z" stroke-width="3.6" fill="#fff"/>
<path d="M640.5,250 C640,252 637.9,258 637.5,262 C637.1,266 637.2,270.5 638,274 C638.8,277.5 641.3,281.5 642,283" stroke-width="10" stroke-dasharray="8 1.2 5 1.2"/>
<path d="M647,285 C648.5,285.5 652.5,288 656,288 C659.5,288 664.3,287 668,285 C671.7,283 676.3,277.5 678,276" stroke-width="2.2" fill="none"/>
<path d="M679,229 L690,229 L690,254 L681,252 L681,240 Z" stroke-width="3" fill="none"/>
<path d="M677,256 L690,262" stroke-width="3.2"/>
<path d="M675,263 L688,268" stroke-width="2.6"/>
<!-- 08_adjuster.py -->
<path d="M317.8,593.9 L290.8,586.5 C286,586 285,592 285.4,598 C285.5,604 287,607.5 290.8,608.1 L315.1,618.2" fill="#fff" stroke-width="2.2"/>
<path d="M317.8,593.9 C322.1,594.1 335.1,597.5 339.4,599.3 C343.7,601.1 342.9,601.3 343.4,604.7 C343.9,608.1 343.6,616 342.5,619.5 C341.4,623 338.6,624.5 336.7,625.5 C334.8,626.5 334.9,626.7 331.3,625.5 C327.7,624.3 318.2,621 315.1,618.2 C312,615.4 312.6,612.1 312.4,608.7 C312.2,605.3 312.8,600.5 313.7,598 C314.6,595.5 313.5,593.7 317.8,593.9 Z" stroke-width="2.8" fill="#fff"/>
<path d="M317.8,593.9 C319.9,593.6 324.8,594 326,596 C327.2,598 325.2,603 325,606 C324.8,609 324.5,611.1 325,614 C325.5,616.9 329.6,622.8 328,623.5 C326.4,624.2 317.7,620.7 315.1,618.2 C312.5,615.7 312.6,612.1 312.4,608.7 C312.2,605.3 312.8,600.5 313.7,598 C314.6,595.5 315.8,594.2 317.8,593.9 Z" stroke-width="2.1" fill="#000"/>
<path d="M315.5,599 l8,1.6 M315,603 l9,1.6 M314.8,607 l9.5,1.6 M315,611 l9.5,1.6 M315.8,615 l9,1.6" stroke="#fff" stroke-width="1.4"/>
<path d="M331,598 C330.6,599.3 328.9,603.2 328.5,606 C328.1,608.8 328.1,612 328.5,615 C328.9,618 330.6,622.5 331,624" stroke-width="2.8" fill="none"/>
<path d="M336,601 C335.6,602.3 333.8,606.2 333.5,609 C333.2,611.8 333.4,615.5 334,618 C334.6,620.5 336.5,623 337,624" stroke-width="2.8" fill="none"/>
<path d="M338,606 l2,1 M338,612 l2,1 M338,618 l2,1" stroke-width="1.4"/>
<ellipse cx="356.5" cy="619" rx="16" ry="23.5" transform="rotate(-8 356.5 619)" stroke-width="3.6" fill="#fff"/>
<path d="M345,606 C344.6,607.5 342.9,611.7 342.5,615 C342.1,618.3 342.1,622.8 342.5,626 C342.9,629.2 343.8,631.8 345,634 C346.2,636.2 349.2,638.2 350,639" stroke-width="2.2" stroke-dasharray="1.5 1.6" fill="none"/>
<ellipse cx="358" cy="619.5" rx="10.5" ry="17.5" transform="rotate(-8 358 619.5)" stroke-width="3.8" fill="none"/>
<path d="M355.6,612.8 C359.2,611.8 370.4,613 374.5,614.1 C378.6,615.2 379.2,617 379.9,619.5 C380.6,622 379.4,626.8 378.5,629 C377.6,631.2 377.9,632.1 374.5,633 C371.1,633.9 361.7,634.9 358.3,634.4 C354.9,633.9 354.9,632.4 354,630 C353.1,627.6 352.7,622.9 353,620 C353.3,617.1 352,613.8 355.6,612.8 Z" stroke-width="2.8" fill="#fff"/>
<path d="M359,615 l2,17 M363,615 l2,17 M367,615 l2,17 M371,615.5 l2,16" stroke-width="1.6"/>
<text x="0" y="0" font-size="17" transform="translate(317.6,555.4) scale(0.95,1)" stroke="#000" stroke-width="0.5">7</text>
<text x="0" y="0" font-size="17" transform="translate(366.8,554.5) scale(0.95,1)" stroke="#000" stroke-width="0.5">8</text>
<path d="M320.6,561 L312.7,590" stroke-width="1.4"/>
<path d="M370.7,560 L363.6,596.6" stroke-width="1.4"/>
<!-- 09_part1.py -->
<path d="M382.9,626.7 C383.5,625.7 384.9,622.4 386.8,620.9 C388.8,619.4 390,618.2 394.6,617.9 C399.2,617.6 408.7,619.1 414.3,618.9 C419.9,618.7 424.1,618.2 428,616.9 C431.9,615.6 434.9,612.8 437.8,611 C440.8,609.2 443.4,607.1 445.7,606.1 C448,605.1 450.6,605.4 451.6,605.2" stroke-width="2.8" fill="none"/>
<path d="M382.9,626.7 L381.9,638.5 L412.3,650.3 L416.2,652.3" stroke-width="2.8" fill="none"/>
<path d="M382.5,633 L414.3,645 L413,651 L381.9,639 Z" fill="#000" stroke-width="1.2"/>
<path d="M382.9,630.7 L414.3,642.4" stroke-width="2.6"/>
<path d="M414.3,634.6 C415.9,634 420.8,631.4 424.1,630.7 C427.4,630.1 428.3,630.4 433.9,630.7 C439.4,631 450.8,633.1 457.4,632.6 C463.9,632.1 468.9,629 473.2,627.7 C477.5,626.4 481.4,625.3 483,624.8" stroke-width="2.6" fill="none"/>
<path d="M414.3,642.4 C415.6,641.8 418.5,639.5 422.1,638.5 C425.7,637.5 432,636.3 435.9,636.6 C439.8,636.9 442.1,640.2 445.7,640.5 C449.3,640.8 452.8,639.5 457.4,638.5 C462,637.5 468.9,635.9 473.2,634.6 C477.5,633.3 481.4,631.4 483,630.7" stroke-width="2.6" fill="none"/>
<path d="M416.2,652.3 C416.9,652 417.9,651.3 420.2,650.3 C422.5,649.3 426.7,647.4 430,646.4 C433.3,645.4 436.9,644.1 439.8,644.4 C442.7,644.7 444,648 447.6,648.3 C451.2,648.6 456.5,647.7 461.4,646.4 C466.3,645.1 473.2,641.8 477.1,640.5 C481,639.2 483.6,638.8 484.9,638.5" stroke-width="2.6" fill="none"/>
<path d="M483,624.8 C483.6,622.5 484.9,614.6 486.9,611 C488.8,607.4 493.1,605.5 494.7,603.2 C496.3,600.9 497,598.8 496.7,597.3 C496.4,595.8 494.8,595.4 492.8,594.4 C490.8,593.4 488.2,592.2 484.9,591.4 C481.6,590.6 475.1,589.7 473.2,589.4" stroke-width="2.6" fill="none"/>
<path d="M484.9,638.5 C485.8,637.8 488.8,636.1 490,634 C491.2,631.9 492,628.7 492,626 C492,623.3 489.7,620.3 490,618 C490.3,615.7 493.3,613 494,612" stroke-width="2.4" fill="none"/>
<path d="M451.6,605.2 C451.3,604 449.9,600.6 449.6,598 C449.3,595.4 448.3,591.8 449.6,589.4 C450.9,587 454.4,584.4 457.4,583.6 C460.3,582.8 464.7,583.5 467.3,584.5 C469.9,585.5 472.2,588.6 473.2,589.4" stroke-width="2.8" fill="none"/>
<circle cx="455.5" cy="597" r="3.8" stroke-width="2.6" fill="none"/>
<path d="M463.3,560 L464.3,607" stroke-width="1.4" stroke-dasharray="4 2.5"/>
<path d="M460,590 L466,590 M463,586 L464,600" stroke-width="2.2"/>
<ellipse cx="463.3" cy="616" rx="15.7" ry="7" transform="rotate(0 463.3 616)" stroke-width="2.8" fill="none"/>
<ellipse cx="463.3" cy="615.5" rx="9.8" ry="4.2" transform="rotate(0 463.3 615.5)" stroke-width="1" fill="#000"/>
<path d="M457,615 l12,0" stroke="#fff" stroke-width="1"/>
<path d="M408,543.5 L427.9,615" stroke-width="1.4"/>
<text x="0" y="0" font-size="17" transform="translate(402.3,538.8) scale(0.95,1)" stroke="#000" stroke-width="0.5">1</text>
<!-- 10_holder.py -->
<ellipse cx="514.5" cy="554.5" rx="12.2" ry="5.5" transform="rotate(0 514.5 554.5)" stroke-width="3" fill="#fff"/>
<ellipse cx="514.5" cy="555" rx="7.2" ry="3.4" transform="rotate(0 514.5 555)" stroke-width="2.4" fill="none"/>
<path d="M502.2,555 C502.3,556.8 502.3,562.5 503,566 C503.7,569.5 504.3,573.6 506.2,575.7 C508.1,577.8 511.6,578.5 514.2,578.7 C516.8,578.9 520,577.5 522,577 C524,576.5 525.6,577.5 526.4,575.7 C527.2,573.9 526.6,569.5 526.6,566 C526.6,562.5 526.6,556.8 526.6,555" stroke-width="2.8" fill="none"/>
<text x="0" y="0" font-size="17" transform="translate(503.6,481.9) scale(0.95,1)" stroke="#000" stroke-width="0.5">2</text>
<path d="M508.3,488 L508.3,547.5" stroke-width="2"/>
<path d="M502,560 C501.8,559.8 501.9,558.3 500.7,558.8 C499.4,559.3 496.9,561.7 494.5,562.8 C492.1,563.9 488.4,564.3 486,565.2 C483.6,566.1 481.2,567 479.8,568.3 C478.4,569.6 477.4,571.4 477.4,573.2 C477.4,575.1 478,578 479.8,579.4 C481.6,580.8 487,581.4 488.4,581.8" stroke-width="3" fill="none"/>
<circle cx="485.3" cy="576.3" r="3" stroke-width="2.8" fill="none"/>
<path d="M488.4,581.8 C491.3,582.2 500.6,583.6 505.6,584.3 C510.6,585 512.6,583.8 518.5,585.8 C524.4,587.8 537.4,594.7 541.2,596.5" stroke-width="2.8" fill="none"/>
<path d="M506,576 C506.1,576.7 506.6,578.6 506.5,580 C506.4,581.4 505.8,583.6 505.6,584.3" stroke-width="2.2" fill="none"/>
<path d="M518.5,585.8 C518.3,587.3 517.8,591.8 517.5,595 C517.2,598.2 514.5,602.9 516.6,605.1 C518.7,607.3 525.7,607 530,608 C534.3,609 540.3,610.8 542.4,611.3" stroke-width="2.8" fill="none"/>
<path d="M490.9,591.6 C491.6,591.8 493.8,592.2 495,593 C496.2,593.8 498.4,594.7 498.2,596.5 C498,598.3 495,601.5 494,604 C493,606.5 492.4,610.1 492.1,611.3" stroke-width="2.8" fill="none"/>
<path d="M479.5,588 L490.9,591.6" stroke-width="2.6" fill="none"/>
<path d="M492.1,611.3 L505,613 L517.9,613.7" stroke-width="2.6" fill="none"/>
<path d="M490.9,613 L490.5,628 L498,633.5 L508,633" stroke-width="2.6" fill="none"/>
<ellipse cx="503.5" cy="624.5" rx="4.2" ry="5.2" transform="rotate(20 503.5 624.5)" stroke-width="1" fill="#000"/>
<path d="M502,622 l2,4" stroke="#fff" stroke-width="1.2"/>
<path d="M517.9,613.7 L517,631" stroke-width="2.6"/>
<path d="M525.2,579.8 C525.8,578.3 527.5,573.6 529,571 C530.5,568.4 532.2,566.5 534,564.3 C535.8,562.1 538.1,559.5 540,558 C541.9,556.5 542.1,556.3 545.1,555.5 C548.1,554.7 553.9,553.1 558.3,553.3 C562.7,553.5 567.9,556.4 571.6,556.6 C575.3,556.8 576.7,554.4 580.4,554.4 C584.1,554.4 590.6,555.7 593.7,556.6 C596.8,557.5 597.5,558.7 599,560 C600.5,561.3 601.9,563.6 602.5,564.3" stroke-width="2.8" fill="none"/>
<path d="M551.7,555 L553,564.3 L570,564.3 L571.6,557" stroke-width="2.4" fill="none"/>
<path d="M576,556.5 L577,568.7 L593,568.7 L593.7,557.5" stroke-width="2.4" fill="none"/>
<path d="M571.6,557.7 C570.7,559.4 567.5,564.7 566,568 C564.5,571.3 564.1,574.4 562.8,577.5 C561.5,580.6 559,584.9 558.3,586.4" stroke-width="2.4" fill="none"/>
<path d="M596,566 C595,567.3 591.7,571 590,574 C588.3,577 586.7,582.3 586,584" stroke-width="2.2" fill="none"/>
<path d="M525.2,579.8 L558.3,586.4 L584.8,584.2" stroke-width="2.4" fill="none"/>
<path d="M516.4,588.6 L542.9,597.4 L580.4,595.2" stroke-width="2.6" fill="none"/>
<path d="M542.9,595.2 L542.9,612.9" stroke-width="2.6"/>
<path d="M520.8,608.5 L542.9,612.9" stroke-width="2.4"/>
<path d="M520.8,621.7 L567.2,630.5 L580.4,628.3" stroke-width="2.6" fill="none"/>
<path d="M518.6,588.6 L520.8,648.2" stroke-width="2.8"/>
<path d="M523,648.2 L580.4,665.9" stroke-width="2.8"/>
<path d="M567.2,597.4 L567.2,659.3" stroke-width="2.4"/>
<path d="M573.8,597.4 L573.8,660.4" stroke-width="2.4"/>
<path d="M580.4,595.2 L581.5,663.7" stroke-width="2.4"/>
<path d="M555,599 L555,606 M560,598 L560,604" stroke-width="1.4"/>
<!-- 11_grip_right.py -->
<path d="M640.6,594 L680.9,601.2" stroke-width="2.4"/>
<path d="M693.9,604.1 L727.1,609.9" stroke-width="2.4"/>
<path d="M738.6,612.8 L776.1,618.5" stroke-width="2.4"/>
<path d="M626.1,650.2 L686.7,661.8" stroke-width="2.4"/>
<path d="M695.3,662.6 L730,669" stroke-width="2.4"/>
<path d="M735.7,670.4 L758.8,674.8" stroke-width="2.4"/>
<path d="M779,620 C782.1,621.7 784.8,625.7 786.2,631.5 C787.6,637.3 788.3,647.4 787.6,654.6 C786.9,661.8 784.7,669.5 781.8,674.8 C778.9,680.1 773.6,685.3 770.3,686.3 C766.9,687.2 763.9,684.8 761.7,680.5 C759.5,676.2 757.8,667.5 757.3,660.3 C756.8,653.1 757.1,643.8 758.8,637.3 C760.5,630.8 764,624.3 767.4,621.4 C770.8,618.5 775.9,618.3 779,620 Z" stroke-width="2.6" fill="none"/>
<path d="M770.3,625.7 C769.5,628.1 766.5,635.2 765.5,640 C764.5,644.8 764.2,648.3 764.5,654.6 C764.8,660.9 765.5,672.8 767.4,677.6 C769.3,682.4 774.6,682.4 776,683.4" stroke-width="2.2" fill="none"/>
<path d="M594.4,565.2 C595.8,564.3 600.1,561.2 603,560 C605.9,558.8 607.9,557.6 611.7,558 C615.6,558.4 622,559.2 626.1,562.3 C630.2,565.4 634,571.7 636.2,576.7 C638.4,581.8 638.6,590 639.1,592.6" stroke-width="2.4" fill="none"/>
<path d="M623.3,571 C624.1,572.2 626.2,575.5 628,578 C629.8,580.5 632.2,583.5 634,586 C635.8,588.5 638.2,591.8 639,593" stroke-width="2.1" fill="none"/>
<path d="M630,592 C628.7,593 623.6,596.2 622,598 C620.4,599.8 621.1,598.1 620.4,602.7 C619.6,607.3 617.5,618.5 617.5,625.7 C617.5,632.9 618.7,641.3 620.4,645.9 C622.1,650.5 626.4,651.9 627.6,653.1" stroke-width="2.4" fill="none"/>
<path d="M583.3,661.7 L617.7,632.3" stroke-width="2.4"/>
<path d="M603,648.2 C603.6,649.6 605.2,654.8 606.6,656.8 C608,658.8 609.5,660.1 611.5,660.5 C613.5,660.9 616.9,660.3 618.9,659.3 C620.9,658.3 623,655.2 623.8,654.4" stroke-width="2.4" fill="none"/>
<path d="M602,565.5 C601,566.6 598.2,569.2 596,572 C593.8,574.8 590.7,578.2 588.7,582.5 C586.7,586.8 585,592 584,598 C583,604 582.6,610.5 582.5,618.5 C582.4,626.5 583.1,639.1 583.5,646 C583.9,652.9 584.1,655.7 585,660 C585.9,664.3 587.2,668.7 589,672 C590.8,675.3 594.5,678.7 595.6,680" stroke-width="2.4" fill="none"/>
<ellipse cx="596.6" cy="618.5" rx="10.5" ry="21.5" transform="rotate(5 596.6 618.5)" stroke-width="3.2" fill="none"/>
<path d="M600,600 C599,601.3 595.3,604.7 594,608 C592.7,611.3 591.8,616 592,620 C592.2,624 593.5,629.3 595,632 C596.5,634.7 600,635.3 601,636" stroke-width="2" fill="none"/>
<path d="M608.8,585.4 C609.7,584.8 612.1,583 614,582 C615.9,581 619.3,580 620.4,579.6" stroke-width="2.2" fill="none"/>
<path d="M613,586 L611,615" stroke-width="2.2"/>
<path d="M603,622 C603.7,623.3 606.7,627 607,630 C607.3,633 606.2,637.7 605,640 C603.8,642.3 600.8,643.3 600,644" stroke-width="2" fill="none"/>
<!-- 12_screws9.py -->
<path d="M534.8,674 L534.8,683 M561.8,670 L561.8,673 M561.8,678 L561.8,692" stroke-width="1.6" stroke-dasharray="3 1.5"/>
<path d="M530,721 L529.8,684 Q535,681.5 540.2,684 L540,721 Z" fill="#000" stroke-width="1.2"/>
<path d="M534.8,686 L534.8,719" stroke="#fff" stroke-width="3" stroke-dasharray="3 1.2"/>
<ellipse cx="533.2" cy="726.5" rx="8.8" ry="6.2" transform="rotate(0 533.2 726.5)" stroke-width="1.3" fill="#000"/>
<path d="M528,724 l2,0 M532,724.5 l2,0 M536,724 l2,0" stroke="#fff" stroke-width="1.3"/>
<path d="M555.5,721 L555.3,695 Q561,692 566.7,695 L566.5,721 Z" fill="#000" stroke-width="1.2"/>
<path d="M561,697 L561,719" stroke="#fff" stroke-width="3" stroke-dasharray="2.5 1.2"/>
<ellipse cx="559.8" cy="725.5" rx="8.8" ry="6" transform="rotate(0 559.8 725.5)" stroke-width="1.3" fill="#000"/>
<path d="M557,727 l3,0 M558,724 l2,0" stroke="#fff" stroke-width="1.2"/>
<text x="0" y="0" font-size="17" transform="translate(602.3,724.5) scale(0.95,1)" stroke="#000" stroke-width="0.5">10</text>
<text x="0" y="0" font-size="17" transform="translate(602.5,760.5) scale(0.95,1)" stroke="#000" stroke-width="0.5">11</text>
<text x="0" y="0" font-size="17" transform="translate(648.2,740.3) scale(0.95,1)" stroke="#000" stroke-width="0.5">9</text>
<path d="M567,711 L600,718" stroke-width="1.4"/>
<path d="M540,730 L599,755" stroke-width="1.4"/>
<path d="M625,704 L633,704 L633,763 L624,763" stroke-width="2.2" fill="none"/>
<path d="M633,735 L643,735" stroke-width="2.2"/>
<path d="M625,703 L590,661" stroke-width="2"/>
<path d="M608,679 C609.3,677.2 613,672 616,668 C619,664 624.3,657.2 626,655" stroke-width="2.2" fill="none"/>
<!-- 13_lever3.py -->
<path d="M190,679 C191.7,679.1 194.2,679.2 200,679.5 C205.8,679.8 215.8,681.3 225,681 C234.2,680.7 244.5,678.8 255,677.5 C265.5,676.2 279.3,674 288,673.5 C296.7,673 303.8,674.3 307,674.5" stroke-width="10" stroke-linecap="butt"/>
<path d="M190,679 C191.7,679.1 194.2,679.2 200,679.5 C205.8,679.8 215.8,681.3 225,681 C234.2,680.7 244.5,678.8 255,677.5 C265.5,676.2 279.3,674 288,673.5 C296.7,673 303.8,674.3 307,674.5" stroke="#fff" stroke-width="6.4" stroke-linecap="butt"/>
<path d="M190,679 C191.7,679.1 194.2,679.2 200,679.5 C205.8,679.8 215.8,681.3 225,681 C234.2,680.7 244.5,678.8 255,677.5 C265.5,676.2 279.3,674 288,673.5 C296.7,673 303.8,674.3 307,674.5" stroke-width="5.8" stroke-dasharray="1.5 1.7 0.8 1.4" stroke-linecap="butt"/>
<path d="M312.5,674 C317.1,674 330.8,673.9 340,674 C349.2,674.1 363.3,674.4 368,674.5" stroke-width="11" stroke-linecap="butt"/>
<path d="M312.5,674 C317.1,674 330.8,673.9 340,674 C349.2,674.1 363.3,674.4 368,674.5" stroke="#fff" stroke-width="7.4" stroke-linecap="butt"/>
<path d="M312.5,674 C317.1,674 330.8,673.9 340,674 C349.2,674.1 363.3,674.4 368,674.5" stroke-width="6.8" stroke-dasharray="1.5 1.7 0.8 1.4" stroke-linecap="butt"/>
<path d="M436,680 C439.2,679.5 449.3,678.1 455,677 C460.7,675.9 464.2,675.3 470,673.5 C475.8,671.7 482.8,668.9 490,666 C497.2,663.1 506.3,658.5 513,656 C519.7,653.5 527.2,651.8 530,651" stroke-width="9.5" stroke-linecap="butt"/>
<path d="M436,680 C439.2,679.5 449.3,678.1 455,677 C460.7,675.9 464.2,675.3 470,673.5 C475.8,671.7 482.8,668.9 490,666 C497.2,663.1 506.3,658.5 513,656 C519.7,653.5 527.2,651.8 530,651" stroke="#fff" stroke-width="5.9" stroke-linecap="butt"/>
<path d="M436,680 C439.2,679.5 449.3,678.1 455,677 C460.7,675.9 464.2,675.3 470,673.5 C475.8,671.7 482.8,668.9 490,666 C497.2,663.1 506.3,658.5 513,656 C519.7,653.5 527.2,651.8 530,651" stroke-width="5.3" stroke-dasharray="1.5 1.7 0.8 1.4" stroke-linecap="butt"/>
<path d="M180,672 L195,674 L196,684 L182,686 Z" fill="#000" stroke-width="1"/>
<path d="M140,657 L155,652 L171,656 L157,665 Z" stroke-width="2.8" fill="#fff"/>
<path d="M140,657 L157,665 L157,695 L139,683 Z" stroke-width="2.8" fill="#fff"/>
<path d="M157,665 L171,656 L185,658 L187,672 L177,685 L157,695 Z" fill="#000" stroke-width="1.5"/>
<path d="M162,671 L180,667 M162,676 L182,676 M163,683 L172,681 M168,662 l10,0" stroke="#fff" stroke-width="1.2"/>
<path d="M361,690 L365,685 L382,697 L381,704 L377,705 L360,697 Z" stroke-width="2.8" fill="#fff"/>
<path d="M364,691 L379,699" stroke-width="2.2"/>
<path d="M366,683 C369.3,680 377.7,669.3 386,665 C394.3,660.7 408.7,658.5 416,657 C423.3,655.5 425.7,655.7 430,656 C434.3,656.3 439.3,657.5 442,659 C444.7,660.5 445.7,663.3 446,665 C446.3,666.7 444.3,668.3 444,669" stroke-width="2.8" fill="none"/>
<path d="M444,669 L426,685 L422,687" stroke-width="2.8" fill="none"/>
<path d="M416,665 L418,685 L424,685" stroke-width="2.6" fill="none"/>
<ellipse cx="427" cy="664" rx="6.5" ry="3.8" transform="rotate(10 427 664)" stroke-width="1" fill="#000"/>
<path d="M418,685 C419.7,687 423.7,693.3 428,697 C432.3,700.7 441.3,705.3 444,707" stroke-width="2.6" fill="none"/>
<path d="M366,683 C368.3,684 372.7,686.3 380,689 C387.3,691.7 399.3,695.7 410,699 C420.7,702.3 435.3,706.7 444,709 C452.7,711.3 454.3,712.2 462,713 C469.7,713.8 482.7,712.7 490,713.5 C497.3,714.3 501.3,715.9 506,718 C510.7,720.1 514,722.7 518,726 C522,729.3 525.3,733.3 530,738 C534.7,742.7 540.7,748.7 546,754 C551.3,759.3 557.3,765 562,770 C566.7,775 570.7,780.3 574,784 C577.3,787.7 579,790.2 582,792 C585,793.8 589,793.8 592,795 C595,796.2 597.7,796.8 600,799 C602.3,801.2 604.8,804.8 606,808 C607.2,811.2 607.7,815 607,818 C606.3,821 604.5,823.8 602,826 C599.5,828.2 595.3,830.3 592,831 C588.7,831.7 585,831.2 582,830 C579,828.8 576.2,826.7 574,824 C571.8,821.3 570,817 569,814 C568,811 568.8,808.7 568,806 C567.2,803.3 566.3,801.7 564,798 C561.7,794.3 557.7,788.7 554,784 C550.3,779.3 546.3,774.7 542,770 C537.7,765.3 532.7,760.3 528,756 C523.3,751.7 518.7,747.2 514,744 C509.3,740.8 504.7,738.5 500,737 C495.3,735.5 491,735.2 486,735 C481,734.8 475.3,735.5 470,736 C464.7,736.5 459.3,738.2 454,738 C448.7,737.8 445.3,737.8 438,735 C430.7,732.2 419.5,725.7 410,721 C400.5,716.3 385.8,709.3 381,707" stroke-width="3" fill="none"/>
<path d="M410,711 C415.3,713.2 433.3,721.7 442,724 C450.7,726.3 454,725.1 462,725 C470,724.9 482,722.7 490,723.5 C498,724.3 504.3,726.9 510,730 C515.7,733.1 519,737.3 524,742 C529,746.7 534.3,752.3 540,758 C545.7,763.7 553,770.7 558,776 C563,781.3 567,785.7 570,790 C573,794.3 574.3,798 576,802 C577.7,806 579.3,812 580,814" stroke-width="2.4" fill="none"/>
<path d="M494,726 C496.3,727.2 503.3,730 508,733 C512.7,736 516.3,739.2 522,744 C527.7,748.8 535.7,756.3 542,762 C548.3,767.7 555.7,773.7 560,778 C564.3,782.3 566.7,786.3 568,788" stroke-width="2.2" fill="none"/>
<path d="M364,678 L382,668" stroke-width="2.4"/>
<path d="M382,668 L422,658" stroke-width="2.4"/>
<ellipse cx="462.5" cy="696.5" rx="13.5" ry="8.5" transform="rotate(0 462.5 696.5)" stroke-width="3" fill="#fff"/>
<ellipse cx="461.5" cy="693.5" rx="7" ry="4" transform="rotate(0 461.5 693.5)" stroke-width="1" fill="#000"/>
<path d="M450,700 C451.3,700.7 455,703.3 458,704 C461,704.7 465.2,704.8 468,704 C470.8,703.2 473.8,699.8 475,699" stroke-width="2" fill="none"/>
<path d="M463,649 L463,669 M462,683 L462,689" stroke-width="1.4" stroke-dasharray="3 2"/>
<text x="0" y="0" font-size="17" transform="translate(500.8,694.5) scale(0.95,1)" stroke="#000" stroke-width="0.5">5</text>
<path d="M477,693 L500,689" stroke-width="1.4"/>
<text x="0" y="0" font-size="17" transform="translate(626.5,804.5) scale(0.95,1)" stroke="#000" stroke-width="0.5">3</text>
<path d="M608,805 L624,799" stroke-width="1.4"/>
<!-- 14_clips_bottom.py -->
<path d="M250.4,717.2 C249.8,716 247.6,715.6 245.5,716 C243.4,716.4 240.5,717.4 238.1,719.6 C235.7,721.8 232.8,725.7 230.8,729.4 C228.8,733.1 226.8,737.4 225.9,741.7 C225,746 224.8,751.1 225.2,755.2 C225.6,759.3 226.6,763 228.3,766.3 C230.1,769.6 232.8,772.7 235.7,774.8 C238.6,776.9 242.2,778.5 245.5,779.1 C248.8,779.7 251.8,779.6 255.3,778.5 C258.8,777.4 263,775.3 266.3,772.4 C269.6,769.5 272.2,765.6 274.9,761.3 C277.6,757 280.4,750.7 282.3,746.6 C284.2,742.5 285.8,739.7 286,736.8 C286.2,733.9 284.1,733.7 283.5,729.4 C282.9,725.1 283.1,714.7 282.3,711 C281.5,707.3 280.9,708.2 278.6,707.4 C276.4,706.6 271,705.5 268.8,706.1 C266.6,706.7 265.9,709 265.7,711 C265.5,713 266.9,715.7 267.6,718.4 C268.3,721.1 269.7,723.9 270,727 C270.3,730.1 270,733.3 269.4,736.8 C268.8,740.3 267.8,744.4 266.3,747.9 C264.8,751.4 262.6,754.9 260.2,757.7 C257.8,760.6 254.2,763.4 251.6,765 C248.9,766.6 246.3,767.9 244.3,767.5 C242.3,767.1 240.4,765.3 239.4,762.6 C238.4,759.9 238.1,755.4 238.1,751.5 C238.1,747.6 238.6,742.8 239.4,739.3 C240.2,735.8 241.4,733.4 243,730.7 C244.6,728 248,725.5 249.2,723.3 C250.4,721 251,718.4 250.4,717.2 Z" stroke-width="3.6" fill="#fff"/>
<path d="M234,733 C233.5,735 231.5,741 231,745 C230.5,749 230.3,753.3 231,757 C231.7,760.7 234.3,765.3 235,767" stroke-width="10" stroke-dasharray="8 1.2 5 1.2"/>
<path d="M241,771 C242.5,771.3 246.7,773.5 250,773 C253.3,772.5 257.7,770.5 261,768 C264.3,765.5 268.5,759.7 270,758" stroke-width="2.2" fill="none"/>
<path d="M269,709 L279,709 L281,733 L271,731 L270,720 Z" stroke-width="3.2" fill="none"/>
<path d="M268,736 L283,740" stroke-width="3.2"/>
<path d="M267,743 L281,746" stroke-width="2.6"/>
<path d="M257.8,780 L272.2,840" stroke-width="1.4"/>
<path d="M387.5,794.6 C385.5,795.9 382.2,798.3 380.2,802 C378.1,805.7 376.2,811.4 375.2,816.7 C374.2,822 373.6,829 374,833.9 C374.4,838.8 375,842.7 377.7,846.2 C380.4,849.7 385.5,853.4 390,854.8 C394.5,856.2 399.8,856.2 404.7,854.8 C409.6,853.4 415.3,849.7 419.4,846.2 C423.5,842.7 426.8,838.4 429.2,833.9 C431.6,829.4 433.5,823.3 434.1,819.2 C434.7,815.1 433.3,814.3 432.9,809.4 C432.5,804.5 433.1,793.6 431.7,789.7 C430.3,785.8 426.8,786.2 424.3,786 C421.9,785.8 418.2,786.6 417,788.5 C415.8,790.4 416.6,794 417,797.1 C417.4,800.2 419.2,803.6 419.4,806.9 C419.6,810.2 419.4,813 418.2,816.7 C417,820.4 414.7,824.9 412,829 C409.3,833.1 405.5,838.6 402.2,841.3 C398.9,844 394.8,845.2 392.4,845 C389.9,844.8 388.5,842.7 387.5,840 C386.5,837.3 386.1,832.9 386.3,829 C386.5,825.1 387.5,820.4 388.7,816.7 C389.9,813 392,809.5 393.7,806.9 C395.4,804.2 398,802.6 398.6,800.8 C399.2,799 398.5,797.1 397.5,796 C396.5,794.9 394.1,794.2 392.4,794 C390.7,793.8 389.5,793.3 387.5,794.6 Z" stroke-width="3.2" fill="#fff"/>
<path d="M380,814 C379.8,816 378.6,822 378.5,826 C378.4,830 378.6,834.5 379.5,838 C380.4,841.5 383.2,845.5 384,847" stroke-width="7.5" stroke-dasharray="8 1.2 5 1.2"/>
<path d="M390,849 C391.7,849.2 396.3,851 400,850 C403.7,849 408.7,845.8 412,843 C415.3,840.2 418.7,834.7 420,833" stroke-width="2" fill="none"/>
<path d="M419,790 L429,790 L430,812 L421,811 Z" stroke-width="2.8" fill="none"/>
<path d="M418,814 L432,818" stroke-width="2.8"/>
<path d="M416,820 L430,824" stroke-width="2.4"/>
<text x="0" y="0" font-size="17" transform="translate(268,859.8) scale(0.95,1)" stroke="#000" stroke-width="0.5">14</text>
<path d="M291.8,851 L372.8,833.9" stroke-width="1.4"/>
<!-- 15_fwd.py -->
<path d="M27.1,921.8 L45.6,888.7 L51.6,889.2 L52.5,892.2 L83.4,875.9 L91.2,876.7 L91.2,905.1 L51.6,925.7 L50.8,936 L48.2,935.1 Z" stroke-width="1.3" fill="#000"/>
<path d="M35.3,921.4 L49.1,899.9 L51.6,901.6 L86.9,882.7 L87.7,903.4 L49.9,923.1 L48.2,930 Z" stroke-width="1" fill="#fff"/>
<text x="0" y="0" font-size="24" text-anchor="start" font-weight="bold" stroke="#000" stroke-width="0.9" transform="translate(48.6,922.3) skewY(-25) scale(0.68,1) skewX(-5)">FWD</text>
<text x="30" y="965" font-size="13.7" text-anchor="start" font-weight="bold" stroke="none">5CH1300-7400</text>
<!-- 16_parts46.py -->
<text x="0" y="0" font-size="17" transform="translate(433.8,465) scale(0.95,1)" stroke="#000" stroke-width="0.5">4</text>
<path d="M445.8,469.6 L456.8,496" stroke-width="1.4"/>
<path d="M449.6,502.4 C449.8,503.5 449.4,507.6 450.8,509.3 C452.2,511 455.6,511.8 458,512.4 C460.4,513 462.8,513.2 465.1,513.2 C467.4,513.2 469.6,513 472,512.4 C474.4,511.8 477.9,511 479.3,509.3 C480.7,507.6 480.1,503.5 480.2,502.4" stroke-width="3" fill="#fff"/>
<ellipse cx="465" cy="500" rx="15.5" ry="6.8" transform="rotate(0 465 500)" stroke-width="3" fill="#fff"/>
<path d="M458.6,496.5 L469.4,503.4" stroke-width="3.6"/>
<path d="M461,495 L471,501.5" stroke-width="2"/>
<path d="M455.7,512.5 L455.7,528.9 L470.4,529.5 L471.4,512.5" fill="#fff" stroke-width="2.2"/>
<path d="M458.6,530 L459,543 L469.4,543 L469.4,530" fill="#fff" stroke-width="2.2"/>
<path d="M459,534.8 l10,0 M459,538.7 l10,0" stroke-width="1.8"/>
<path d="M463.6,547.5 L463.6,580" stroke-width="1.6" stroke-dasharray="5 2"/>
<text x="0" y="0" font-size="17" transform="translate(550.5,475.8) scale(0.95,1)" stroke="#000" stroke-width="0.5">6</text>
<path d="M557.8,479.8 L564.7,508" stroke-width="1.4"/>
<path d="M567.6,510.2 L539.1,532.8 L542.1,539.7 L573.5,519.1" fill="#fff" stroke-width="2.2"/>
<path d="M547,530 L567,515 M549,533 L569,518" stroke-width="1.2" stroke-dasharray="2 1.5"/>
<path d="M569.6,503.4 L577.4,500.4 L585.3,504.4 L587.2,512.2 L584.3,518.1 L577.4,520 L570,516 L567,509 Z" stroke-width="3" fill="#fff"/>
<ellipse cx="578.5" cy="509" rx="5.5" ry="5.5" transform="rotate(0 578.5 509)" stroke-width="2.4" fill="none"/>
<path d="M581,502 L585,512" stroke-width="2.2"/>
<path d="M536.2,539.7 L533.2,541.7 M527.4,544.6 L523.4,549.5" stroke-width="1.6"/>
</g></svg></body></html>
